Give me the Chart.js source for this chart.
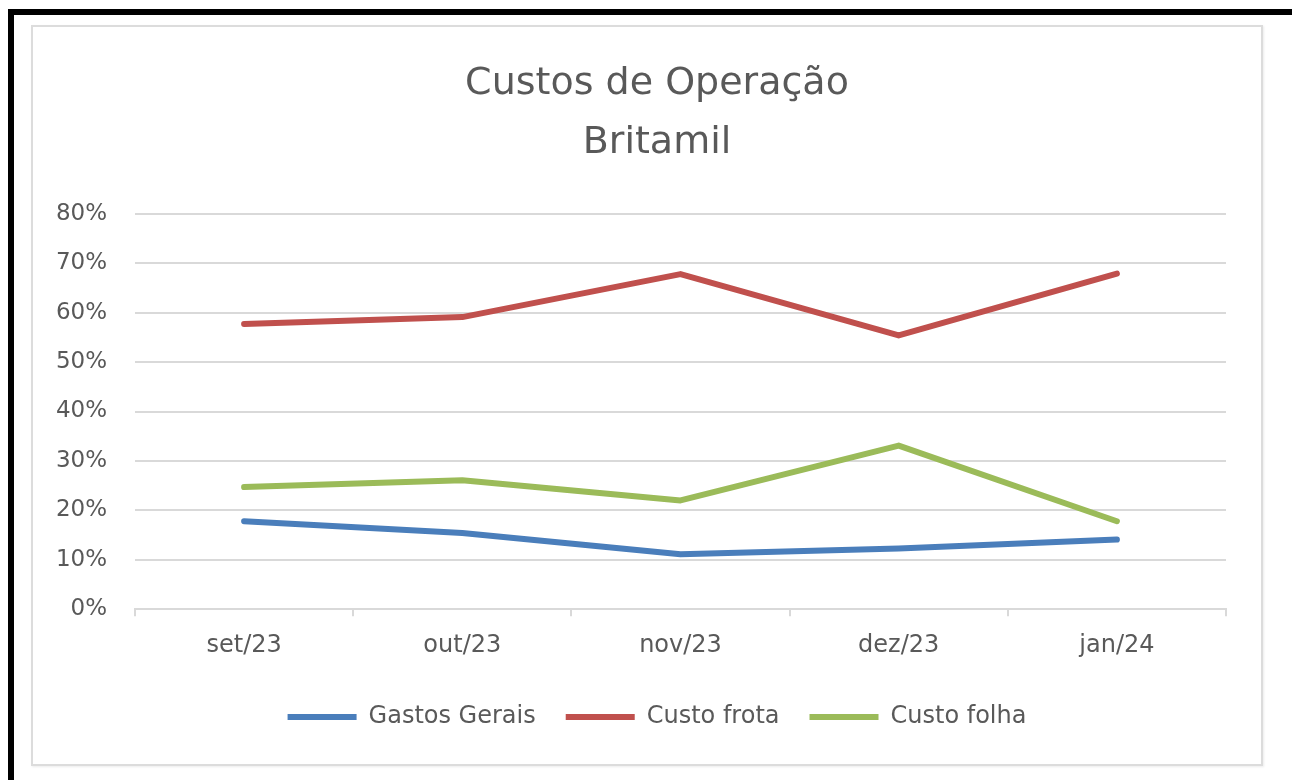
<!DOCTYPE html>
<html>
<head>
<meta charset="utf-8">
<script src="https://cdn.jsdelivr.net/npm/chart.js@4"></script>
<style>
    body { margin: 0; background: #fff; width: 1292px; height: 780px; position: relative; overflow: hidden; }
    #barra-topo { position: absolute; left: 8px; top: 9px; width: 1284px; height: 6px; background: #000; }
    #barra-esq { position: absolute; left: 8px; top: 9px; width: 6px; height: 771px; background: #000; }
    #moldura {
        position: absolute; left: 31px; top: 25px; width: 1228px; height: 737px;
        border: 2px solid #dcdcdc; box-shadow: 1px 1px 2px rgba(0,0,0,0.08);
    }
    canvas { display: block; }
</style>
</head>
<body>
<div id="barra-topo"></div>
<div id="barra-esq"></div>
<div id="moldura"><canvas id="grafico" width="1228" height="737"></canvas></div>
<script>
const meses = ['set/23', 'out/23', 'nov/23', 'dez/23', 'jan/24'];
const gastosGerais = [17.8, 15.4, 11.1, 12.3, 14.1];
const custoFrota = [57.7, 59.1, 67.8, 55.4, 67.9];
const custoFolha = [24.7, 26.1, 22.0, 33.1, 17.8];

const cinzaTexto = '#595959';
const fonte = '"DejaVu Sans", sans-serif';

function serie(nome, dados, cor) {
    return {
        label: nome,
        data: dados,
        borderColor: cor,
        backgroundColor: cor,
        borderWidth: 6,
        borderCapStyle: 'round',
        borderJoinStyle: 'round',
        pointRadius: 0,
        tension: 0
    };
}

const ctx = document.getElementById('grafico').getContext('2d');
new Chart(ctx, {
    type: 'line',
    data: {
        labels: meses,
        datasets: [
            serie('Gastos Gerais', gastosGerais, '#4a7ebb'),
            serie('Custo frota', custoFrota, '#c0504d'),
            serie('Custo folha', custoFolha, '#9bbb59')
        ]
    },
    options: {
        responsive: false,
        animation: false,
        devicePixelRatio: 1,
        layout: { padding: { left: 20, right: 0, top: 28, bottom: 25 } },
        plugins: {
            tooltip: { enabled: false },
            title: {
                display: true,
                text: ['Custos de Operação', 'Britamil'],
                color: cinzaTexto,
                font: { family: fonte, size: 38, weight: 'normal', lineHeight: 1.55 },
                padding: { top: 0, bottom: 41 }
            },
            legend: {
                position: 'bottom',
                labels: {
                    color: cinzaTexto,
                    font: { family: fonte, size: 24 },
                    usePointStyle: true,
                    pointStyle: 'line',
                    pointStyleWidth: 69,
                    padding: 30
                }
            }
        },
        scales: {
            x: {
                offset: true,
                grid: { offset: true, drawOnChartArea: false, tickLength: 7, color: '#d9d9d9', lineWidth: 2 },
                border: { color: '#d9d9d9', width: 2 },
                ticks: { color: cinzaTexto, font: { family: fonte, size: 24, lineHeight: 1.2 }, padding: 15 }
            },
            y: {
                min: 0,
                max: 80,
                afterFit: escala => { escala.width = 82; },
                ticks: {
                    stepSize: 10,
                    color: cinzaTexto,
                    font: { family: fonte, size: 23 },
                    padding: 28,
                    callback: v => v + '%'
                },
                grid: { color: '#d9d9d9', lineWidth: 2, drawTicks: false },
                border: { display: false }
            },
            // margem à direita do gráfico
            direita: {
                type: 'linear',
                position: 'right',
                afterFit: escala => { escala.width = 35; },
                ticks: { display: false },
                grid: { display: false },
                border: { display: false }
            }
        }
    }
});
</script>
</body>
</html>
